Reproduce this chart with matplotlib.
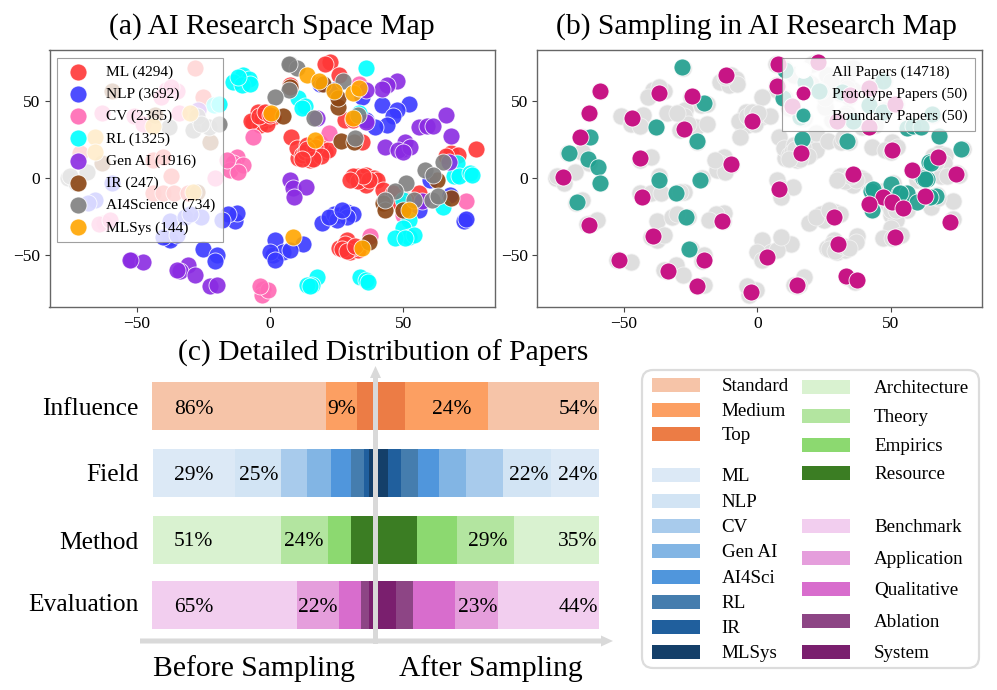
import matplotlib
matplotlib.use("Agg")
import matplotlib.pyplot as plt
from matplotlib.patches import FancyBboxPatch, Rectangle, FancyArrow
from matplotlib.lines import Line2D

plt.rcParams['font.family'] = ['Liberation Serif', 'DejaVu Sans']
plt.rcParams['mathtext.fontset'] = 'stix'

# ---------- data: panel (a) ----------
ml_x = [22.5,20.6,26,7.5,-5,-2.5,-6.3,-1.3,-3.8,1.3,-4.4,-7,-3,-1,-4,-2,0,8,10.6,10,13.8,16.9,15,20.6,18.8,21.9,11.9,13,17,19,16,14,12,28,31,34.4,32.5,36,34.4,38.8,31,40,36,33,37,35,30,42.5,46,56,51,48.8,68,70.6,77,66,28.8,26,30,33,28,31,27,29,32,-28,-25,-44,-40,-37,-44,-40,-36,-30.6,-71]
ml_y = [75,74,66.6,60,39.7,41.8,36.4,37.5,34.3,39.7,43,37,38.5,35,40,43,41,26.7,12.7,19.2,21.3,16,11.6,17,22.4,18,14.9,17,20,14,12,19,12,37.5,37.5,23.5,1,2,-2.4,0,1,-1.3,-4.5,-2,-1,1,-1,-7.8,-10,-9.5,-14,-16.4,16,15,18.7,14,-40,-45.5,-47.6,-46.6,-43,-45.5,-46,-47,-44,71,52.6,11.6,13.8,1,-10,-10,-10,-10,16]
nlp_x = [18.8,24,34.4,42,52,47.5,46,44,39.4,36,60,67.5,73,72.5,73.5,56,19.4,24,26,29,31,28.8,25,22,26.9,12.5,1.9,1.3,5,0,7.5,1.9,-13,-12.5,-15.6,-25,-20,-20.6,-59,-65.6,-68,-37.5,-32,-26,-30,-18,-38,-37.5,-40,-35]
nlp_y = [61,57,52.6,47,48,44,40,34,33,37.5,-1,-11,-27,-28,-26.5,-21,-29,-23,-24,-22,-23,-25,-27,-25,-21,-43,-40,-50,-48,-48,-46.6,-53,-28,-22.4,-23,-46,-50,-54,-3.4,-14,-16,-28,-25,-25,-23,-27,-39,-40,-38,-37]
cv_x = [33.5,22,-6.5,37.5,73.5,50,-12.5,-13.8,-15,-10,-12,-16,-2.5,-3,-0.6,-3.8,-39,-35,-41,-37,-34,-63,-51,-47.5,-20.6,-62,-64,-60]
cv_y = [61,29,26.3,-37.5,-14.7,-24,13.8,9.5,5,8.4,4,11.6,-72,-75.6,-72.4,-70,57,56,52.6,59,42,42,40,35,0,-29,-30,-27]
rl_x = [36,-10,-8,-14,-10.6,-7.5,-12,10.6,13,11.9,33.5,70,68.8,71,75,75.6,65,50,51.9,50,51.9,53.8,47,50.6,17.5,15.6,13.8,15,33.8,36,36.6,-21,-19]
rl_y = [71,66.6,64,62,60,61,65.5,51.5,46.5,45,41.8,9.5,1,1,3,2,-19,-14,-27,-32.5,-38,-37,-39,-39,-64,-69,-69,-70,-64,-66,-67,47,48]
gen_x = [47.5,44,42,36,17.5,36,66,68,56,58.8,61,43,50,50.6,48,52.5,50,66.9,7.5,8.8,13.5,9,57,-52,-47.5,-52.6,-30.6,-33.8,-28,-35,-22.5,-20,-27]
gen_y = [62.7,60,57.5,57,38.6,36,41,27,33,33.6,33.6,20,19,23.5,18,20,17,10.6,-1.3,-6.7,-5.6,-12,-15,-53,-54.7,-53,-56,-60.5,-63,-59.5,-70,-69,44]
ir_x = [4.8,7.5,20,25.4,25.6,26.5,31.5,42.5,43,50,62.5,67.8,37,-59,-43,-22.5,-63,-27.5]
ir_y = [40,59,61,46,51.5,23.7,23.5,-16,-20.7,-20.7,-1.3,-13,-41.5,56,41,23.5,9.5,-9]
sci_x = [7.5,10,7.2,27.5,7.3,1.9,16.5,33,32,65,58,61,51,47,43,54,60.6,63,-75.6,-68.5,-72.5,-75,-38,-29,-23,-19,-27.5,-26]
sci_y = [74,71,73.5,62.7,57,52.6,38.6,41,25.6,10.6,5,2,-3,-8.4,-14,-14,-14,-11.4,0,4,-3.4,1.5,33,31,33,35,40,35]
sys_x = [13.8,18.4,24,31,33.5,31,0.4,16.9,52,8.8,34.4,-30,-44,-65.6,-65.6,-29]
sys_y = [66.6,62.7,56.5,55,58,38.6,41.8,24.6,-20.7,-38,-45.5,42,33.6,26.7,17,-9]

map_labels = ['ML (4294)','NLP (3692)','CV (2365)','RL (1325)','Gen AI (1916)','IR (247)','AI4Science (734)','MLSys (144)']
map_colors = ['#ff3636','#3a3aff','#ff69b4','#00ffff','#8a2be2','#8b4513','#808080','#ffa500']

# ---------- data: panel (b) ----------
proto_x = [7.9,22.9,-11.8,7.3,-58.8,-37,-24.6,-63,42,34.8,12.9,51.6,-46.8,-1.9,29.8,42,-27.5,-66.5,50.4,16.6,-43.8,67.9,-9.9,58,74.5,36,-73,8.1,-43.4,47,62.9,42,50.4,54.5,28.9,-13.4,-63,72.3,51.6,-39,30.4,3.5,-51.8,-20,-33.4,33.3,37.3,-22.6,15,-2.5]
proto_y = [73.5,75,66.4,59.5,56,55,53,42,58,53.7,46.6,47.8,38.6,37,37,33,32,26.7,18,16,12.7,13.8,8.8,5,2.6,2.4,0.9,-7.3,-12.5,-12,-11.6,-16.8,-15.7,-19.6,-25.4,-27.8,-30.4,-28.7,-38,-37.5,-42.7,-50.9,-53.4,-53.4,-60,-63.4,-66,-70,-69,-74]
bound_x = [-28.4,10.4,17.9,23.3,31.9,47.3,9.8,-19.9,42,47.3,65.4,16,35.8,-38,56,58.5,61.4,-62.8,68.3,-22.5,16.9,33.5,76.6,-70.5,-63.3,-59.6,64.8,64.4,-37,-21.5,62,63.8,-59,43,50,53,56,67,64.8,60,-30.3,-67.5,43,-26.8,-25.5,42.5,65.2,63,53.5,43.4]
bound_y = [72,70,62,56.5,55.8,62.7,52,48.3,47,43,41.4,39.6,37,32.8,32.5,33.6,33,26.7,27.4,24,25,24,18.8,16.4,12.3,6.9,9.5,10.5,-1.3,-1.3,-0.2,-0.6,-3,-8,-4,-10,-9.5,-11.4,-12,-15.3,-9.9,-15.3,-20.7,-25,-46,-8.5,10,-0.5,-10,-7]
b_labels = ['All Papers (14718)','Prototype Papers (50)','Boundary Papers (50)']
proto_color = '#c71585'
bound_color = '#20a090'
all_color = '#dedede'

# ---------- data: panel (c) ----------
rows = ['Influence','Field','Method','Evaluation']
influence_names = ['Standard','Medium','Top']
field_names = ['ML','NLP','CV','Gen AI','AI4Sci','RL','IR','MLSys']
method_names = ['Architecture','Theory','Empirics','Resource']
eval_names = ['Benchmark','Application','Qualitative','Ablation','System']
influence_colors = ['#f6c4a8','#fc9f62','#ec7c45']
field_colors = ['#dce9f6','#d2e4f4','#a8cbec','#82b5e4','#5096dc','#457dae','#205f9d','#143f69']
method_colors = ['#d9f2d0','#b3e5a0','#8cd970','#3b7d23']
eval_colors = ['#f2ceef','#e59edc','#d86dcd','#8d4585','#7a1f6e']
# widths as drawn, outer segment first
influence_before = [77.8,13.8,7.1]
influence_after = [49.7,36.8,12.2]
field_before = [36.8,20.2,11.7,11.1,8.7,5.7,2.5,1.6]
field_after = [21.6,21.4,16.3,12.2,9.6,7.6,5.5,4.6]
method_before = [57,21.2,10.4,9.6]
method_after = [38,25.5,17.9,17.3]
eval_before = [65.1,18.8,9.6,3.7,1.8]
eval_after = [45.3,18.9,19.1,7.6,7.8]

W, H = 997, 690
fig = plt.figure(figsize=(W/100, H/100), dpi=100)

def axpx(x0, y0, x1, y1, **kw):
    return fig.add_axes([x0/W, 1-y1/H, (x1-x0)/W, (y1-y0)/H], **kw)

XL = (-82.6, 84.3)
YL = (-83.5, 82.8)
def style_map(ax):
    ax.set_xlim(XL); ax.set_ylim(YL)
    ax.set_xticks([-50,0,50]); ax.set_yticks([-50,0,50])
    ax.tick_params(labelsize=12.5, length=3.5, width=0.8, color='#444444', pad=3)
    for s in ax.spines.values():
        s.set_color('#666666'); s.set_linewidth(1.0)

SZ = 150
LEG = dict(fontsize=11.1,frameon=True,framealpha=0.8,edgecolor='#888888',fancybox=False,
           labelspacing=0.535,handletextpad=0.95,borderpad=0.46,handlelength=1.8,borderaxespad=0)
# panel a
ax_a = axpx(49.5, 50, 495, 307)
series = [(ml_x,ml_y),(nlp_x,nlp_y),(cv_x,cv_y),(rl_x,rl_y),(gen_x,gen_y),(ir_x,ir_y),(sci_x,sci_y),(sys_x,sys_y)]
for (xs,ys),c,l in zip(series,map_colors,map_labels):
    ax_a.scatter(xs,ys,s=SZ,c=c,alpha=0.9,edgecolors='white',linewidths=0.6,label=l)
style_map(ax_a)
ax_a.set_title('(a) AI Research Space Map',fontsize=21.3,x=0.5,y=1.0,pad=12)
leg = ax_a.legend(loc='upper left',bbox_to_anchor=((57-49.5)/445.5,1-(58-50)/257),scatterpoints=1,**LEG)
leg.get_frame().set_linewidth(0.8)

# panel b
ax_b = axpx(537, 50, 982, 307)
all_x = sum((s[0] for s in series), [])
all_y = sum((s[1] for s in series), [])
ax_b.scatter(all_x,all_y,s=SZ,c=all_color,edgecolors='#f2f2f2',linewidths=0.6,label=b_labels[0])
ax_b.scatter(bound_x,bound_y,s=SZ,c=bound_color,alpha=0.9,edgecolors='white',linewidths=0.6,label=b_labels[2],zorder=3)
ax_b.scatter(proto_x,proto_y,s=SZ,c=proto_color,edgecolors='white',linewidths=0.6,label=b_labels[1],zorder=4)
style_map(ax_b)
ax_b.set_title('(b) Sampling in AI Research Map',fontsize=21.3,x=0.492,y=1.0,pad=12)
handles = [Line2D([],[],ls='',marker='o',ms=11,mfc='white',mec='white'),
           Line2D([],[],ls='',marker='o',ms=11,mfc=proto_color,mec='white'),
           Line2D([],[],ls='',marker='o',ms=11,mfc=bound_color,alpha=0.9,mec='white')]
legb = ax_b.legend(handles,b_labels,loc='upper right',bbox_to_anchor=(1-(982-974.5)/445,1-(58-50)/257),**LEG)
legb.get_frame().set_linewidth(0.8)
legb.set_zorder(10)

# panel c
ax_c = axpx(152, 380, 599, 632)
ax_c.set_xlim(-100, 100)
ax_c.set_ylim(632, 380)
ax_c.axis('off')
row_pos = [406, 473, 540, 605]
GAP = 1.2
table = [(influence_before,influence_after,influence_colors),
         (field_before,field_after,field_colors),
         (method_before,method_after,method_colors),
         (eval_before,eval_after,eval_colors)]
for y,(bef,aft,cols) in zip(row_pos,table):
    rev = -GAP
    for w,c in zip(reversed(bef),reversed(cols)):
        ax_c.barh(y,-w,left=rev,height=47.5,color=c,edgecolor='none')
        rev -= w
    fwd = GAP
    for w,c in zip(reversed(aft),reversed(cols)):
        ax_c.barh(y,w,left=fwd,height=47.5,color=c,edgecolor='none')
        fwd += w

# overlay in pixel coordinates
ov = fig.add_axes([0,0,1,1])
ov.set_xlim(0,W); ov.set_ylim(H,0); ov.axis('off'); ov.patch.set_alpha(0)

ov.text(383,353,'(c) Detailed Distribution of Papers',fontsize=21.3,ha='center',va='center')
for t,y in zip(rows,[409,475,543,605]):
    ov.text(139,y,t,fontsize=18.4,ha='right',va='center')
pct_labels = ['86%','9%','24%','54%','29%','25%','22%','24%','51%','24%','29%','35%','65%','22%','23%','44%']
pct_xs = [193.5,342,452,578,193.5,259,529,578,193.5,304,488,578,193.5,318,478,578]
pct_ys = [409,409,409,409,475,475,475,475,541,541,541,541,607.5,607.5,607.5,607.5]
for t,x,y in zip(pct_labels,pct_xs,pct_ys):
    ov.text(x,y,t,fontsize=15.5,ha='center',va='center')
ov.text(254,669,'Before Sampling',fontsize=21.3,ha='center',va='center')
ov.text(491,669,'After Sampling',fontsize=21.3,ha='center',va='center')

GREY = '#d9d9d9'
ov.add_patch(FancyArrow(375.5,644,0,-278,width=5,head_width=11,head_length=12,length_includes_head=True,fc=GREY,ec='none'))
ov.add_patch(FancyArrow(140,641,473,0,width=5,head_width=11,head_length=12,length_includes_head=True,fc=GREY,ec='none'))

# category legend
box = FancyBboxPatch((642,370),337,298,boxstyle='round,pad=0,rounding_size=11',fc='white',ec='#dcdcdc',lw=1.6)
ov.add_patch(box)
col1_names = influence_names+field_names
col1_colors = influence_colors+field_colors
col1_y = [385,410,434,475.3,500.7,526,551.3,576.7,601.7,627,652.3]
col2_names = method_names+eval_names
col2_colors = method_colors+eval_colors
col2_y = [387.3,416,444.7,473.3,526,557.7,589,620.7,652.3]
for names,cols,ys,x0,xt in [(col1_names,col1_colors,col1_y,652,721.7),(col2_names,col2_colors,col2_y,802,874)]:
    for n,c,y in zip(names,cols,ys):
        ov.add_patch(Rectangle((x0,y-7),48,14,fc=c,ec='none'))
        ov.text(xt,y+1.5,n,fontsize=13.7,ha='left',va='center')

fig.savefig('out.png',dpi=100)
